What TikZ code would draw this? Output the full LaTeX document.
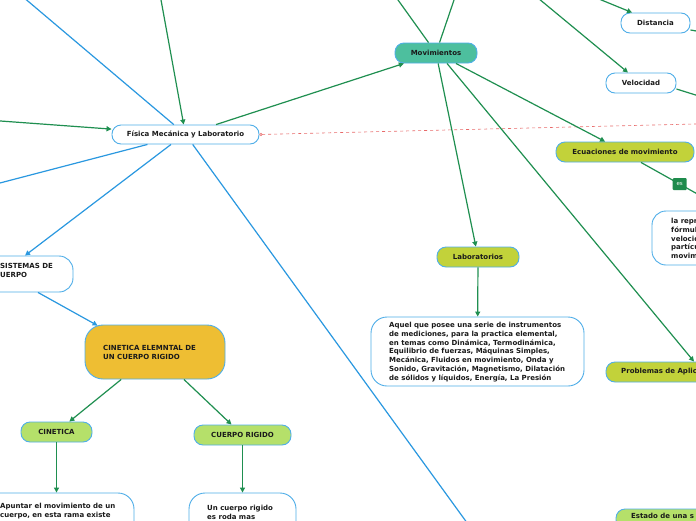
\documentclass[tikz,border=0pt]{standalone}
\usepackage{fontspec}
\setmainfont{DejaVu Sans}
\usetikzlibrary{arrows.meta,calc}
\definecolor{bordblue}{HTML}{4FAEE8}
\definecolor{lgreen}{HTML}{1F8F50}
\definecolor{lblue}{HTML}{2A98E0}
\definecolor{tealfill}{HTML}{4DBF9E}
\definecolor{yfill}{HTML}{C2D23A}
\definecolor{gfill}{HTML}{B5E06A}
\definecolor{goldfill}{HTML}{EEBE33}
\definecolor{esfill}{HTML}{1E8B4C}
\definecolor{txt}{HTML}{1A1A1A}
\definecolor{reddash}{HTML}{E86A6A}
\newcommand{\fsz}{\fontsize{7}{8.7}\selectfont\bfseries}
\begin{document}
\begin{tikzpicture}[x=1pt,y=-1pt,
  box/.style={draw=bordblue, line width=0.9pt, rounded corners=9pt, inner sep=0pt, font=\fsz, text=txt},
  txtnode/.style={inner sep=0pt, font=\fsz, text=txt, align=left},
  gline/.style={draw=lgreen, line width=1.2pt},
  garrow/.style={gline, -{Triangle[length=5pt,width=5pt]}},
  bline/.style={draw=lblue, line width=1.2pt},
  barrow/.style={bline, -{Triangle[length=5pt,width=5pt]}},
  eslabel/.style={fill=esfill, text=white, inner sep=0pt, minimum width=14pt, minimum height=12pt, rounded corners=1pt, font=\fontsize{5.5}{6}\selectfont}
]
\useasboundingbox (0,0) rectangle (696,520);
\clip (0,0) rectangle (696,520);
\fill[white] (0,0) rectangle (696,520);

% nodes
\node[box, fill=white, minimum width=147pt, minimum height=19pt] (fis) at (185.5,134.5) {Física Mecánica y Laboratorio};
\node[box, fill=tealfill, minimum width=82pt, minimum height=20pt] (mov) at (436,53) {Movimientos};
\node[box, fill=white, minimum width=69pt, minimum height=20pt] (dis) at (655.5,23) {Distancia};
\node[box, fill=white, minimum width=70pt, minimum height=20pt] (vel) at (641,83) {Velocidad};
\node[box, fill=yfill, minimum width=138pt, minimum height=20pt] (ecu) at (625,152) {Ecuaciones de movimiento};
\node[box, fill=white, rounded corners=14pt, minimum width=150pt, minimum height=54pt] (rep) at (727,238) {};
\node[txtnode, anchor=west] (reptxt) at (671,238.5) {la repr\\fórmul\\velocid\\partícu\\movim};
\node[box, fill=yfill, minimum width=82pt, minimum height=20pt] (lab) at (478,257) {Laboratorios};
\node[box, fill=white, rounded corners=16pt, minimum width=213pt, minimum height=69pt] (aq) at (477.5,351.5) {};
\node[txtnode, anchor=west] (aqtxt) at (389,352) {Aquel que posee una serie de instrumentos\\de mediciones, para la practica elemental,\\en temas como Dinámica, Termodinámica,\\Equilibrio de fuerzas, Máquinas Simples,\\Mecánica, Fluidos en movimiento, Onda y\\Sonido, Gravitación, Magnetismo, Dilatación\\de sólidos y líquidos, Energía, La Presión};
\node[box, fill=yfill, minimum width=176pt, minimum height=20pt] (prob) at (694,372) {};
\node[txtnode, anchor=west] (probtxt) at (621,372) {Problemas de Aplic};
\node[box, fill=gfill, minimum width=176pt, minimum height=20pt] (est) at (704,519) {};
\node[txtnode, anchor=west] (esttxt) at (631,516) {Estado de una s};
\node[box, fill=white, rounded corners=14pt, minimum width=113pt, minimum height=36pt] (sis) at (16.5,274) {};
\node[txtnode, anchor=west] (sistxt) at (0,270.5) {SISTEMAS DE\\UERPO};
\node[box, fill=goldfill, rounded corners=18pt, minimum width=140pt, minimum height=54pt] (cee) at (155,352) {};
\node[txtnode, anchor=west] (ceetxt) at (103,352.5) {CINETICA ELEMNTAL DE\\UN CUERPO RIGIDO};
\node[box, fill=gfill, minimum width=71pt, minimum height=20pt] (cin) at (56.5,432) {CINETICA};
\node[box, fill=gfill, minimum width=97pt, minimum height=20pt] (cr) at (242.5,435) {CUERPO RIGIDO};
\node[box, fill=white, rounded corners=16pt, minimum width=164pt, minimum height=60pt] (apu) at (52,523) {};
\node[txtnode, anchor=west] (aputxt) at (0,511) {Apuntar el movimiento de un\\cuerpo, en esta rama existe};
\node[box, fill=white, rounded corners=16pt, minimum width=107pt, minimum height=60pt] (ucr) at (242.5,523) {};
\node[txtnode, anchor=west] (ucrtxt) at (207,512.5) {Un cuerpo rigido\\es roda mas};

% free ends
\coordinate (tl) at (3,-20);
\coordinate (tg) at (157.4,-20);
\coordinate (lg) at (-20,119.5);
\coordinate (rd) at (720,123.4);
\coordinate (lb) at (-20,188.2);
\coordinate (br) at (479.5,540);
\coordinate (mu1) at (383.7,-20);
\coordinate (mu2) at (460.8,-20);
\coordinate (dtop) at (577,-10);
\coordinate (dr) at (720,35);
\coordinate (vtop) at (516.2,-20);
\coordinate (vr) at (720,102.6);

% connectors
\draw[bline] (fis) -- (tl);
\draw[garrow] (tg) -- (fis);
\draw[garrow] (lg) -- (fis);
\draw[garrow] (fis) -- (mov);
\draw[draw=reddash, line width=0.6pt, dashed, {Circle[open,length=3pt]}-] (fis.east) -- (rd);
\draw[bline] (fis) -- (lb);
\draw[barrow] ($(fis.south)+(-14.5,0)$) -- ($(sis.north)+(8.5,0)$);
\draw[bline] (fis) -- (br);
\draw[barrow] ($(sis.south)+(21.5,0)$) -- ($(cee.north west)+(13,1)$);
\draw[garrow] (cee) -- (cin);
\draw[garrow] (cee) -- (cr);
\draw[garrow] (cin) -- (cin |- apu.north);
\draw[garrow] (cr) -- (ucr);
\draw[gline] (mov) -- (mu1);
\draw[gline] (mov) -- (mu2);
\draw[garrow] (mov) -- (ecu);
\draw[garrow] (mov) -- (lab);
\draw[garrow] ($(mov.south)+(11,0)$) -- (prob.north);
\draw[garrow] (lab) -- (aq);
\draw[garrow] (dtop) -- ($(dis.north)+(-23.5,0)$);
\draw[gline] ($(dis.east)+(0,7)$) -- (dr);
\draw[garrow] (vtop) -- ($(vel.north)+(-13,0)$);
\draw[gline] ($(vel.east)+(0,6)$) -- (vr);
\draw[gline] ($(ecu.south)+(16,0)$) -- node[eslabel, pos=0.45] (es) {es} (rep.north);
\end{tikzpicture}
\end{document}
